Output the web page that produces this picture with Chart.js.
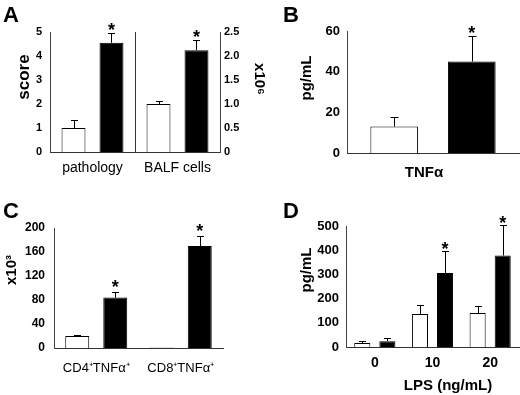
<!DOCTYPE html>
<html><head><meta charset="utf-8">
<script src="https://cdn.jsdelivr.net/npm/chart.js@4"></script>
<style>
html,body{margin:0;padding:0;background:#fff;}
#wrap{position:relative;width:520px;height:395px;overflow:hidden;background:#fff;}
canvas{position:absolute;}
</style></head><body>
<div id="wrap">
<canvas id="cA" width="275" height="195" style="left:0px;top:0px;width:275px;height:195px"></canvas>
<canvas id="cB" width="260" height="195" style="left:260px;top:0px;width:260px;height:195px"></canvas>
<canvas id="cC" width="260" height="200" style="left:0px;top:195px;width:260px;height:200px"></canvas>
<canvas id="cD" width="260" height="200" style="left:260px;top:195px;width:260px;height:200px"></canvas>
</div>
<script>
// ---- Panel A ----
const catsA = ['pathology', 'BALF cells'];
const pathologyCtrl = [1.0, null];
const pathologyCtrlErr = [0.33, null];
const pathologyTreat = [4.55, null];
const pathologyTreatErr = [0.4, null];
const balfCtrl = [null, 1.0];
const balfCtrlErr = [null, 0.07];
const balfTreat = [null, 2.12];
const balfTreatErr = [null, 0.21];
const ticksALeft = [0, 1, 2, 3, 4, 5];
const ticksARight = [0, 0.5, 1, 1.5, 2, 2.5];

// ---- Panel B ----
const catsB = ['TNFα'];
const ctrlB = [13];
const ctrlErrB = [4.5];
const treatB = [45];
const treatErrB = [12.4];
const ticksB = [0, 20, 40, 60];

// ---- Panel C ----
const catsC = ['CD4⁺TNFα⁺', 'CD8⁺TNFα⁺'];
const ctrlC = [20, 1];
const ctrlErrC = [1.5, 0];
const treatC = [84, 170];
const treatErrC = [9, 17];
const ticksC = [0, 40, 80, 120, 160, 200];

// ---- Panel D ----
const catsD = ['0', '10', '20'];
const ctrlD = [17, 136, 140];
const ctrlErrD = [6, 37, 30];
const treatD = [24, 306, 378];
const treatErrD = [15, 90, 127];
const ticksD = [0, 100, 200, 300, 400, 500];

const F = "'Liberation Sans', Arial, Helvetica, sans-serif";

const errPlugin = {
  id: 'errs',
  afterDatasetsDraw(chart, args, opts) {
    const ctx = chart.ctx;
    const cap = opts.cap || 3.5;
    const gap = opts.starGap || 8;
    chart.data.datasets.forEach((ds, i) => {
      const meta = chart.getDatasetMeta(i);
      const ys = chart.scales[meta.yAxisID];
      meta.data.forEach((el, j) => {
        const v = ds.data[j];
        if (v === null || v === undefined) return;
        const e = ds.errors ? ds.errors[j] : null;
        let top = el.y;
        const x = Math.round(el.x) + 0.5;
        if (e) {
          const yt = Math.round(ys.getPixelForValue(v + e)) + 0.5;
          ctx.save();
          ctx.strokeStyle = '#000';
          ctx.lineWidth = 1;
          ctx.beginPath();
          ctx.moveTo(x, el.y);
          ctx.lineTo(x, yt);
          ctx.moveTo(x - cap, yt);
          ctx.lineTo(x + cap, yt);
          ctx.stroke();
          ctx.restore();
          top = yt;
        }
        if (ds.stars && ds.stars[j]) {
          ctx.save();
          ctx.fillStyle = '#000';
          ctx.font = 'bold 18px ' + F;
          ctx.textAlign = 'center';
          ctx.textBaseline = 'alphabetic';
          ctx.fillText('*', el.x, top - gap + 10);
          ctx.restore();
        }
      });
    });
  }
};

const textPlugin = {
  id: 'texts',
  afterDraw(chart, args, opts) {
    const ctx = chart.ctx;
    (opts.items || []).forEach(it => {
      ctx.save();
      ctx.fillStyle = '#000';
      ctx.font = it.font + ' ' + F;
      ctx.translate(it.x, it.y);
      if (it.rot) ctx.rotate(it.rot);
      ctx.textAlign = it.align || 'center';
      ctx.textBaseline = it.base || 'middle';
      ctx.fillText(it.t, 0, 0);
      ctx.restore();
    });
  }
};

function yAxis(ticksArr, width, pad, size, position) {
  return {
    type: 'linear',
    position: position || 'left',
    min: ticksArr[0],
    max: ticksArr[ticksArr.length - 1],
    afterBuildTicks: s => { s.ticks = ticksArr.map(v => ({ value: v })); },
    afterFit: s => { s.width = width; },
    grid: { display: false, drawTicks: false },
    border: { display: true, color: '#444', width: 1 },
    ticks: { font: { family: F, size: size, weight: 'bold' }, color: '#000', padding: pad }
  };
}
function xAxis(height, pad, font, sep, labelOffset) {
  return {
    type: 'category',
    afterFit: s => { s.height = height; },
    grid: { display: !!sep, offset: true, color: '#333', drawTicks: false, lineWidth: 1 },
    border: { display: true, color: '#333', width: 1 },
    ticks: { font: font, color: '#000', padding: pad, maxRotation: 0, autoSkip: false, labelOffset: labelOffset || 0 }
  };
}
const whiteStyle = { backgroundColor: '#fff', borderColor: '#000', borderWidth: 1 };
const blackStyle = { backgroundColor: '#000', borderColor: '#000', borderWidth: 1 };
const common = {
  responsive: false,
  animation: false,
  devicePixelRatio: 1,
  plugins: { legend: { display: false }, tooltip: { enabled: false } }
};

// Panel A
new Chart(document.getElementById('cA'), {
  type: 'bar',
  data: {
    labels: catsA,
    datasets: [
      Object.assign({ label: 'Control', data: pathologyCtrl, errors: pathologyCtrlErr, yAxisID: 'y' }, whiteStyle),
      Object.assign({ label: 'Treated', data: pathologyTreat, errors: pathologyTreatErr, stars: [true, false], yAxisID: 'y' }, blackStyle),
      Object.assign({ label: 'Control', data: balfCtrl, errors: balfCtrlErr, yAxisID: 'y2' }, whiteStyle),
      Object.assign({ label: 'Treated', data: balfTreat, errors: balfTreatErr, stars: [false, true], yAxisID: 'y2' }, blackStyle)
    ]
  },
  options: Object.assign({}, common, {
    skipNull: true,
    datasets: { bar: { categoryPercentage: 0.894, barPercentage: 0.63, skipNull: true } },
    layout: { padding: { top: 32, left: 0, right: 15, bottom: 0 } },
    scales: {
      x: xAxis(43, 8, { family: F, size: 14 }, true),
      y: yAxis(ticksALeft, 50, 8, 11, 'left'),
      y2: yAxis(ticksARight, 40, 4, 11, 'right')
    },
    plugins: Object.assign({}, common.plugins, {
      errs: { cap: 3.5, starGap: 8 },
      texts: { items: [
        { t: 'A', x: 3, y: 22, font: 'bold 22px', align: 'left', base: 'alphabetic' },
        { t: 'score', x: 24, y: 77, font: 'bold 17px', rot: -Math.PI / 2 },
        { t: 'x10⁶', x: 259, y: 79, font: 'bold 15px', rot: Math.PI / 2 }
      ] }
    })
  }),
  plugins: [errPlugin, textPlugin]
});

// Panel B
new Chart(document.getElementById('cB'), {
  type: 'bar',
  data: {
    labels: catsB,
    datasets: [
      Object.assign({ label: 'Control', data: ctrlB, errors: ctrlErrB }, whiteStyle),
      Object.assign({ label: 'Treated', data: treatB, errors: treatErrB, stars: [true] }, blackStyle)
    ]
  },
  options: Object.assign({}, common, {
    datasets: { bar: { categoryPercentage: 0.902, barPercentage: 0.615 } },
    layout: { padding: { top: 31, left: 0, right: 1, bottom: 0 } },
    scales: {
      x: xAxis(42, 11, { family: F, size: 15, weight: 'bold' }, false, -9),
      y: yAxis(ticksB, 87, 7, 13, 'left')
    },
    plugins: Object.assign({}, common.plugins, {
      errs: { cap: 4, starGap: 8 },
      texts: { items: [
        { t: 'B', x: 23, y: 22, font: 'bold 22px', align: 'left', base: 'alphabetic' },
        { t: 'pg/mL', x: 47, y: 78, font: 'bold 15px', rot: -Math.PI / 2 }
      ] }
    })
  }),
  plugins: [errPlugin, textPlugin]
});

// Panel C
new Chart(document.getElementById('cC'), {
  type: 'bar',
  data: {
    labels: catsC,
    datasets: [
      Object.assign({ label: 'Control', data: ctrlC, errors: ctrlErrC }, whiteStyle),
      Object.assign({ label: 'Treated', data: treatC, errors: treatErrC, stars: [true, true] }, blackStyle)
    ]
  },
  options: Object.assign({}, common, {
    datasets: { bar: { categoryPercentage: 0.9, barPercentage: 0.63 } },
    layout: { padding: { top: 33, left: 0, right: 37, bottom: 0 } },
    scales: {
      x: xAxis(47, 13, { family: F, size: 13 }, false),
      y: yAxis(ticksC, 54, 9, 12, 'left')
    },
    plugins: Object.assign({}, common.plugins, {
      errs: { cap: 3.5, starGap: 10 },
      texts: { items: [
        { t: 'C', x: 3, y: 23, font: 'bold 22px', align: 'left', base: 'alphabetic' },
        { t: 'x10³', x: 12, y: 75, font: 'bold 15px', rot: -Math.PI / 2 }
      ] }
    })
  }),
  plugins: [errPlugin, textPlugin]
});

// Panel D
new Chart(document.getElementById('cD'), {
  type: 'bar',
  data: {
    labels: catsD,
    datasets: [
      Object.assign({ label: 'Control', data: ctrlD, errors: ctrlErrD }, whiteStyle),
      Object.assign({ label: 'Treated', data: treatD, errors: treatErrD, stars: [false, true, true] }, blackStyle)
    ]
  },
  options: Object.assign({}, common, {
    datasets: { bar: { categoryPercentage: 0.87, barPercentage: 0.64 } },
    layout: { padding: { top: 31, left: 0, right: 1, bottom: 0 } },
    scales: {
      x: xAxis(48, 8, { family: F, size: 14, weight: 'bold' }, false),
      y: yAxis(ticksD, 86, 7, 13, 'left')
    },
    plugins: Object.assign({}, common.plugins, {
      errs: { cap: 3.5, starGap: 7 },
      texts: { items: [
        { t: 'D', x: 23, y: 23, font: 'bold 22px', align: 'left', base: 'alphabetic' },
        { t: 'pg/mL', x: 47, y: 75, font: 'bold 15px', rot: -Math.PI / 2 },
        { t: 'LPS (ng/mL)', x: 188, y: 195, font: 'bold 15px', base: 'alphabetic' }
      ] }
    })
  }),
  plugins: [errPlugin, textPlugin]
});
</script>
</body></html>
